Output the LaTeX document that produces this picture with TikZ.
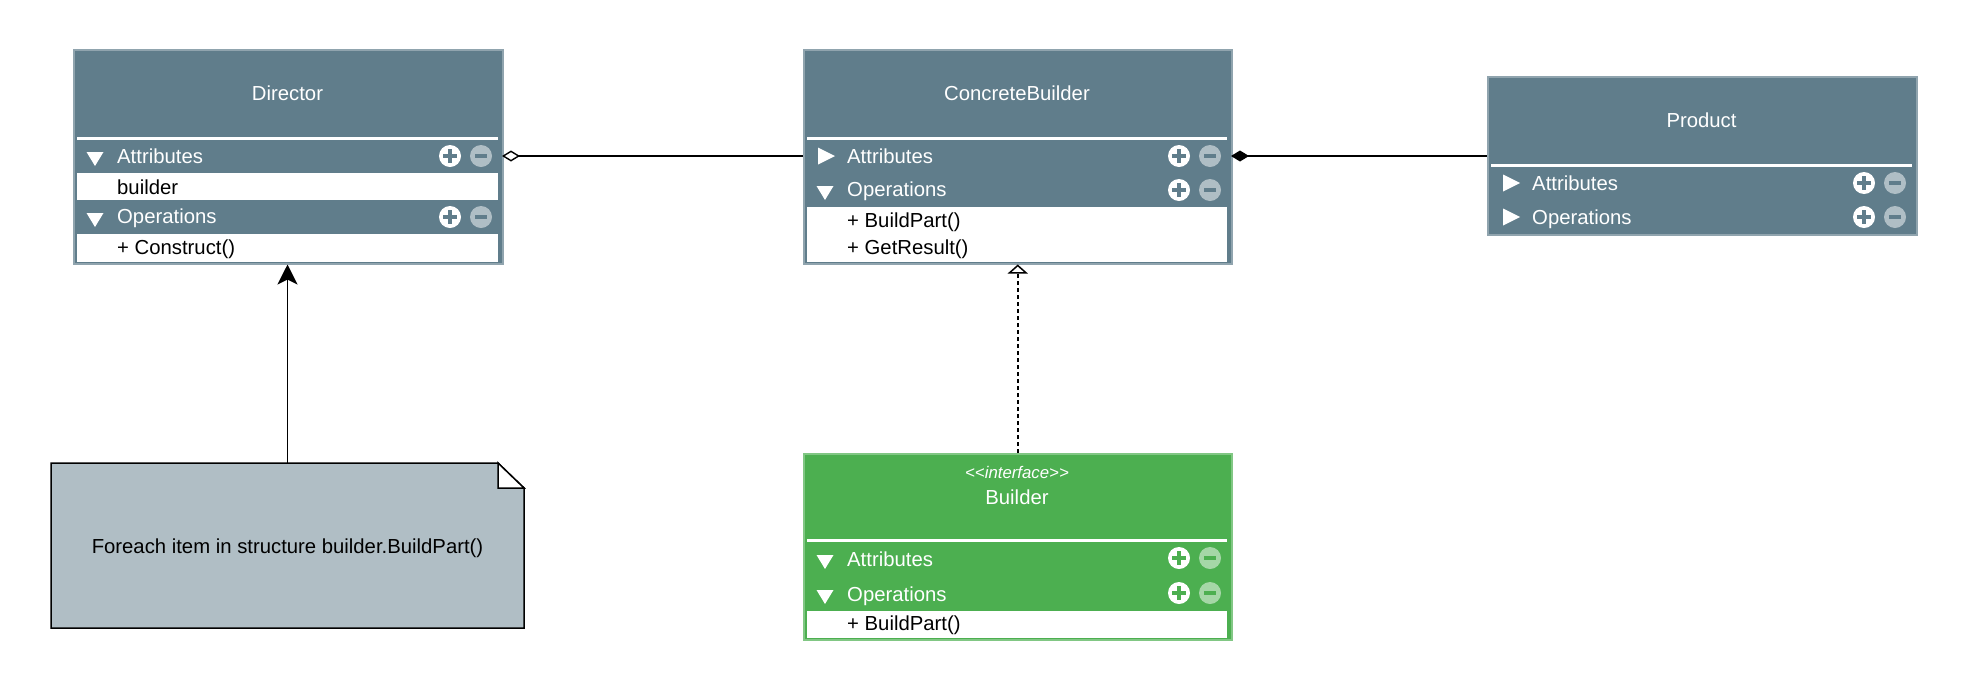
\documentclass[tikz,border=0pt]{standalone}
\usepackage{fontspec}
\setmainfont{Liberation Sans}
\usetikzlibrary{arrows.meta}
\definecolor{slate}{HTML}{607D8B}
\definecolor{slateline}{HTML}{90A4AE}
\definecolor{umlgreen}{HTML}{4CAF50}
\definecolor{greenline}{HTML}{81C784}
\definecolor{notefill}{HTML}{B0BEC5}
\newcommand{\umlicons}[3]{%
  \fill[white] (#1-52,#2) circle[radius=11pt];
  \draw[#3, line width=3.5pt] (#1-59,#2) -- (#1-45,#2) (#1-52,#2-7) -- (#1-52,#2+7);
  \fill[white, opacity=0.5] (#1-21,#2) circle[radius=11pt];
  \draw[#3, line width=3.5pt] (#1-27,#2) -- (#1-15,#2);
}
\newcommand{\tridown}[2]{\fill[white] (#1-8.5,#2-4) -- (#1+8.5,#2-4) -- (#1,#2+10) -- cycle;}
\newcommand{\triright}[2]{\fill[white] (#1-8,#2-8.5) -- (#1-8,#2+8.5) -- (#1+9,#2) -- cycle;}
\tikzset{
  slatebox/.style={rectangle, fill=slate, draw=slateline, line width=1.5pt, anchor=north west, inner sep=0pt},
  greenbox/.style={rectangle, fill=umlgreen, draw=greenline, line width=1.5pt, anchor=north west, inner sep=0pt},
  rowstrip/.style={rectangle, inner sep=0pt, outer sep=0pt, minimum width=429pt, minimum height=30pt},
  wtxt/.style={font=\fontsize{20.3}{24}\selectfont, text=white, inner sep=0pt, anchor=base west},
  btxt/.style={font=\fontsize{20.3}{24}\selectfont, text=black, inner sep=0pt, anchor=base west},
  ttl/.style={font=\fontsize{20.3}{24}\selectfont, text=white, inner sep=0pt, anchor=base},
  sep/.style={white, line width=3pt},
  conn/.style={line width=1.4pt, black},
}
\begin{document}
\begin{tikzpicture}[x=1pt,y=-1pt]
\useasboundingbox (0,0) rectangle (1966,689);
\fill[white] (0,0) rectangle (1966,689);

% ---------- Director ----------
\node[slatebox, minimum width=429pt, minimum height=214pt] (dir) at (73,49) {};
\draw[sep] (77,138) -- (498,138);
\fill[white] (77,173) rectangle (498,200);
\fill[white] (77,234) rectangle (498,262);
\node[ttl] (dirtitle) at (287.5,100.5) {Director};
\node[rowstrip] (dirattr) at (287.5,156) {};
\tridown{95}{156}
\node[wtxt] (dira) at (117,163) {Attributes};
\umlicons{502}{156}{slate}
\node[btxt] (dirb) at (117,194) {builder};
\tridown{95}{217}
\node[wtxt] (diro) at (117,223.5) {Operations};
\umlicons{502}{217}{slate}
\node[btxt] (dirc) at (117,254) {+ Construct()};

% ---------- ConcreteBuilder ----------
\node[slatebox, minimum width=428pt, minimum height=214pt] (cb) at (803,49) {};
\draw[sep] (807,138) -- (1227,138);
\fill[white] (807,207) rectangle (1227,262);
\node[ttl] (cbtitle) at (1017,100.5) {ConcreteBuilder};
\node[rowstrip, minimum width=428pt] (cbattr) at (1017,156) {};
\triright{826}{156}
\node[wtxt] (cba) at (847,163) {Attributes};
\umlicons{1231}{156}{slate}
\tridown{825}{190}
\node[wtxt] (cbo) at (847,196.5) {Operations};
\umlicons{1231}{190}{slate}
\node[btxt] (cbp) at (847,227.5) {+ BuildPart()};
\node[btxt] (cbg) at (847,254.5) {+ GetResult()};

% ---------- Product ----------
\node[slatebox, minimum width=429pt, minimum height=158pt] (prod) at (1487,76) {};
\draw[sep] (1491,165) -- (1912,165);
\node[ttl] (prodtitle) at (1701.5,127.5) {Product};
\triright{1511}{183}
\node[wtxt] (proda) at (1532,190) {Attributes};
\umlicons{1916}{183}{slate}
\triright{1511}{217}
\node[wtxt] (prodo) at (1532,224) {Operations};
\umlicons{1916}{217}{slate}

% ---------- Builder ----------
\node[greenbox, minimum width=428pt, minimum height=186pt] (bld) at (803,453) {};
\draw[sep] (807,540) -- (1227,540);
\fill[white] (807,611) rectangle (1227,638);
\node[font=\fontsize{16.8}{20}\selectfont\itshape, text=white, inner sep=0pt, anchor=base] (bldst) at (1017,478) {<{}<interface>{}>};
\node[ttl] (bldtitle) at (1017,504) {Builder};
\tridown{825}{559}
\node[wtxt] (blda) at (847,566.5) {Attributes};
\umlicons{1231}{558}{umlgreen}
\tridown{825}{594}
\node[wtxt] (bldo) at (847,601) {Operations};
\umlicons{1231}{593}{umlgreen}
\node[btxt] (bldp) at (847,630.5) {+ BuildPart()};

% ---------- Note ----------
\node[rectangle, inner sep=0pt, outer sep=0pt, minimum width=473pt, minimum height=165pt, anchor=north west] (note) at (51,463) {};
\draw[black, line width=1.5pt, fill=notefill] (note.north west) -- ([xshift=-26pt]note.north east) -- ([yshift=-25pt]note.north east) -- (note.south east) -- (note.south west) -- cycle;
\draw[black, line width=1.5pt, fill=white, line join=miter] ([xshift=-26pt]note.north east) -- ([xshift=-26pt,yshift=-25pt]note.north east) -- ([yshift=-25pt]note.north east) -- cycle;
\node[btxt, anchor=base] (notetext) at (287.5,553.5) {Foreach item in structure builder.BuildPart()};

% ---------- Connectors ----------
\draw[conn, {Diamond[open,length=18pt,width=11pt]}-] (dirattr.east) -- (cbattr.west);
\draw[conn, {Diamond[length=18pt,width=11pt]}-] (cbattr.east) -- (cbattr.east -| prod.west);
\draw[conn, line width=1.5pt, dash pattern=on 4pt off 3pt, -{Triangle[open,length=9pt,width=20pt]}] (bld.north) -- (cb.south);
\draw[conn, -{Stealth[length=20pt,width=20pt,inset=5pt]}] (note.north) -- (note.north |- dir.south);
\end{tikzpicture}
\end{document}
